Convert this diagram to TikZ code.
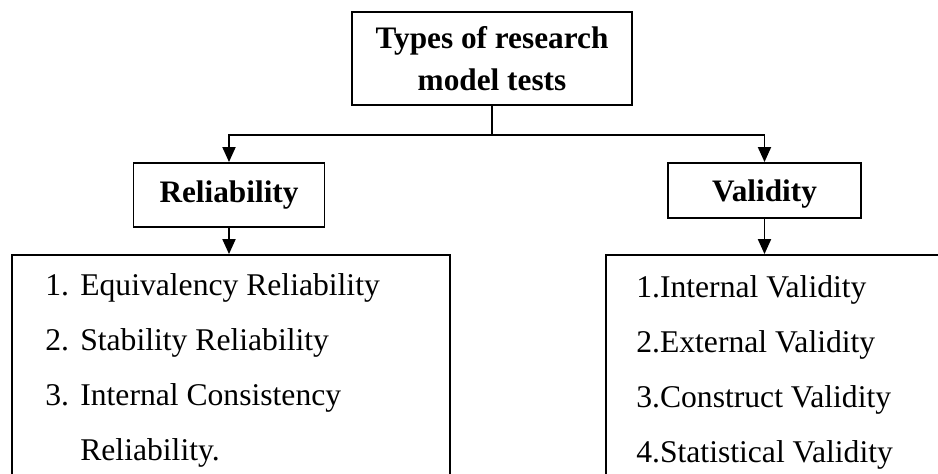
\documentclass[tikz,border=0pt]{standalone}
\usepackage{fontspec}
\setmainfont{Liberation Serif}
\usetikzlibrary{arrows.meta}

\tikzset{
	box/.style={shape=rectangle,draw=black,line width=1.1pt,inner sep=0pt},
	head/.style={box,font=\bfseries\fontsize{17.8}{23.5}\selectfont,align=center},
	item/.style={anchor=base west,inner sep=0pt,font=\fontsize{18}{20}\selectfont},
	link/.style={draw=black,line width=1.1pt},
	arr/.style={link,-{Triangle[length=0.3cm,width=0.26cm]}}
}

\begin{document}
\begin{tikzpicture}[x=0.02cm,y=-0.02cm]
		\clip (0,0) rectangle (938,474);
		
		\node[head,minimum width=5.6cm,minimum height=1.86cm] (T) at (492,58.5) {Types of research\\model tests};
		\node[head,minimum width=3.82cm,minimum height=1.28cm] (R) at (229,195) {Reliability};
		\node[head,text depth=0pt,minimum width=3.86cm,minimum height=1.1cm] (V) at (764.5,190.5) {Validity};
		\node[box,minimum width=8.76cm,minimum height=4.7cm] (RL) at (231,372.5) {};
		\node[box,minimum width=6.88cm,minimum height=4.7cm] (VL) at (778,372.5) {};
		\coordinate (S) at (492,135);
		
		\node[item] (R1) at (45,295) {\makebox[0.7cm][l]{1.}Equivalency Reliability};
		\node[item] (R2) at (45,350) {\makebox[0.7cm][l]{2.}Stability Reliability};
		\node[item] (R3) at (45,405) {\makebox[0.7cm][l]{3.}Internal Consistency};
		\node[item] (R4) at (80,460) {Reliability.};
		
		\node[item] (V1) at (636,297) {1.Internal Validity};
		\node[item] (V2) at (636,352) {2.External Validity};
		\node[item] (V3) at (636,407) {3.Construct Validity};
		\node[item] (V4) at (636,462) {4.Statistical Validity};
		
		\path[link] (T.south) -- (S);
		\path[arr] (S) -| (R.north);
		\path[arr] (S) -| (V.north);
		\path[arr] (R.south) -- (R.south |- RL.north);
		\path[arr] (V.south) -- (V.south |- VL.north);
\end{tikzpicture}
\end{document}
